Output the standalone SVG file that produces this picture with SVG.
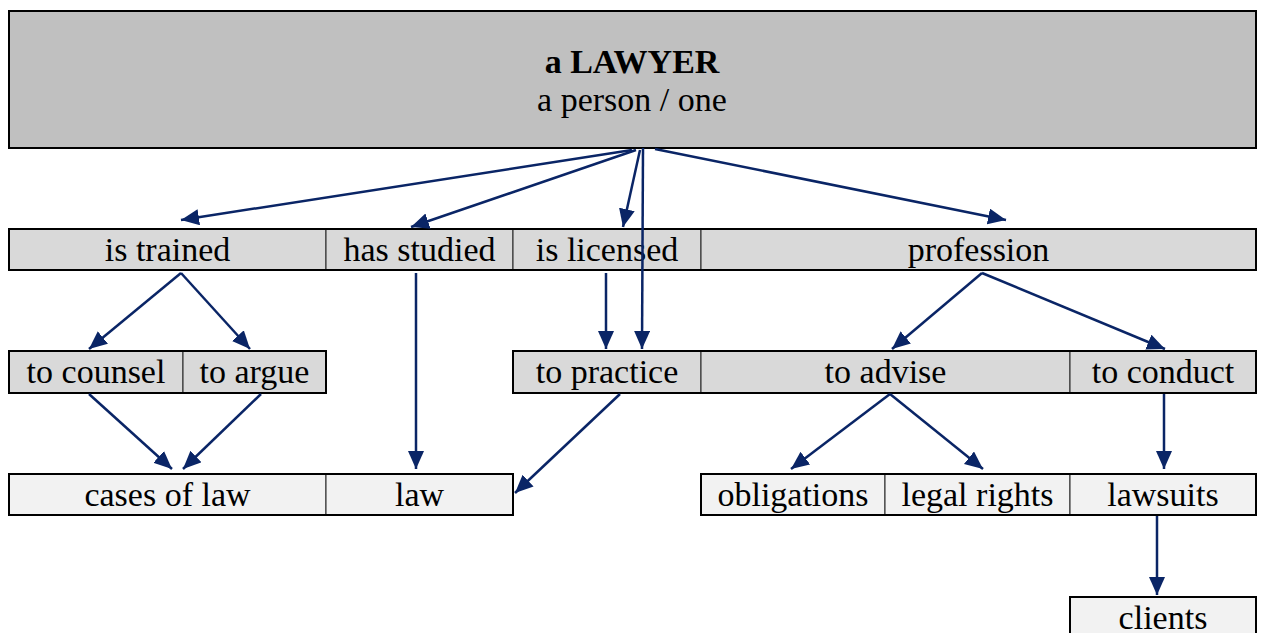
<svg xmlns="http://www.w3.org/2000/svg" width="1262" height="633" viewBox="0 0 1262 633">
  <style>
    text { font-family: "Liberation Serif", "Times New Roman", serif; font-size: 34px; fill: #000; text-anchor: middle; }
    .title { font-weight: bold; }
    .top { fill: #c0c0c0; stroke: #000; stroke-width: 2; }
    .mid { fill: #d9d9d9; stroke: #222; stroke-width: 1; }
    .low { fill: #f2f2f2; stroke: #222; stroke-width: 1; }
    .frame { fill: none; stroke: #000; stroke-width: 2; }
    .link { stroke: #0a2566; stroke-width: 2.5; fill: none; marker-end: url(#arrow); }
  </style>
  <defs>
    <marker id="arrow" markerUnits="userSpaceOnUse" markerWidth="19" markerHeight="17" refX="18" refY="8" orient="auto">
      <path d="M0,0 L18,8 L0,16 z" fill="#0a2566"/>
    </marker>
  </defs>

  <rect width="1262" height="633" fill="#fff"/>

  <!-- root -->
  <g id="lawyer">
    <rect class="top" x="9" y="11" width="1247" height="137"/>
    <text class="title" x="632" y="73">a LAWYER</text>
    <text x="632" y="111">a person / one</text>
  </g>

  <!-- first row -->
  <g id="is-trained"><rect class="mid" x="9" y="229" width="317" height="41"/><text x="167.5" y="261">is trained</text></g>
  <g id="has-studied"><rect class="mid" x="326" y="229" width="187" height="41"/><text x="419.5" y="261">has studied</text></g>
  <g id="is-licensed"><rect class="mid" x="513" y="229" width="188" height="41"/><text x="607" y="261">is licensed</text></g>
  <g id="profession"><rect class="mid" x="701" y="229" width="555" height="41"/><text x="978.5" y="261">profession</text></g>

  <!-- second row -->
  <g id="to-counsel"><rect class="mid" x="9" y="351" width="174" height="42"/><text x="96" y="383">to counsel</text></g>
  <g id="to-argue"><rect class="mid" x="183" y="351" width="143" height="42"/><text x="254.5" y="383">to argue</text></g>
  <g id="to-practice"><rect class="mid" x="513" y="351" width="188" height="42"/><text x="607" y="383">to practice</text></g>
  <g id="to-advise"><rect class="mid" x="701" y="351" width="369" height="42"/><text x="885.5" y="383">to advise</text></g>
  <g id="to-conduct"><rect class="mid" x="1070" y="351" width="186" height="42"/><text x="1163" y="383">to conduct</text></g>

  <!-- third row -->
  <g id="cases-of-law"><rect class="low" x="9" y="474" width="317" height="41"/><text x="167.5" y="506">cases of law</text></g>
  <g id="law"><rect class="low" x="326" y="474" width="187" height="41"/><text x="419.5" y="506">law</text></g>
  <g id="obligations"><rect class="low" x="701" y="474" width="184" height="41"/><text x="793" y="506">obligations</text></g>
  <g id="legal-rights"><rect class="low" x="885" y="474" width="185" height="41"/><text x="977.5" y="506">legal rights</text></g>
  <g id="lawsuits"><rect class="low" x="1070" y="474" width="186" height="41"/><text x="1163" y="506">lawsuits</text></g>

  <g id="clients"><rect class="low" x="1070" y="597" width="186" height="45"/><text x="1163" y="629">clients</text></g>

  <!-- outer outlines of each row strip -->
  <g id="frames">
    <rect class="frame" x="9" y="229" width="1247" height="41"/>
    <rect class="frame" x="9" y="351" width="317" height="42"/>
    <rect class="frame" x="513" y="351" width="743" height="42"/>
    <rect class="frame" x="9" y="474" width="504" height="41"/>
    <rect class="frame" x="701" y="474" width="555" height="41"/>
    <rect class="frame" x="1070" y="597" width="186" height="45"/>
  </g>

  <!-- connectors -->
  <g id="connectors">
    <line class="link" x1="632" y1="150" x2="181" y2="220"/>
    <line class="link" x1="636" y1="150" x2="411" y2="227"/>
    <line class="link" x1="640" y1="150" x2="623" y2="227"/>
    <line class="link" x1="643" y1="148" x2="642" y2="349"/>
    <line class="link" x1="655" y1="149" x2="1006" y2="220"/>

    <line class="link" x1="181" y1="273" x2="89" y2="349"/>
    <line class="link" x1="181" y1="273" x2="250" y2="349"/>
    <line class="link" x1="416" y1="273" x2="416" y2="469"/>
    <line class="link" x1="606" y1="273" x2="606" y2="349"/>
    <line class="link" x1="982" y1="273" x2="892" y2="349"/>
    <line class="link" x1="982" y1="273" x2="1165" y2="349"/>

    <line class="link" x1="89" y1="394" x2="172" y2="469"/>
    <line class="link" x1="261" y1="394" x2="183" y2="469"/>
    <line class="link" x1="620" y1="394" x2="515" y2="493"/>
    <line class="link" x1="890" y1="394" x2="791" y2="469"/>
    <line class="link" x1="890" y1="394" x2="983" y2="469"/>
    <line class="link" x1="1164" y1="394" x2="1164" y2="469"/>
    <line class="link" x1="1157" y1="516" x2="1157" y2="595"/>
  </g>
</svg>
